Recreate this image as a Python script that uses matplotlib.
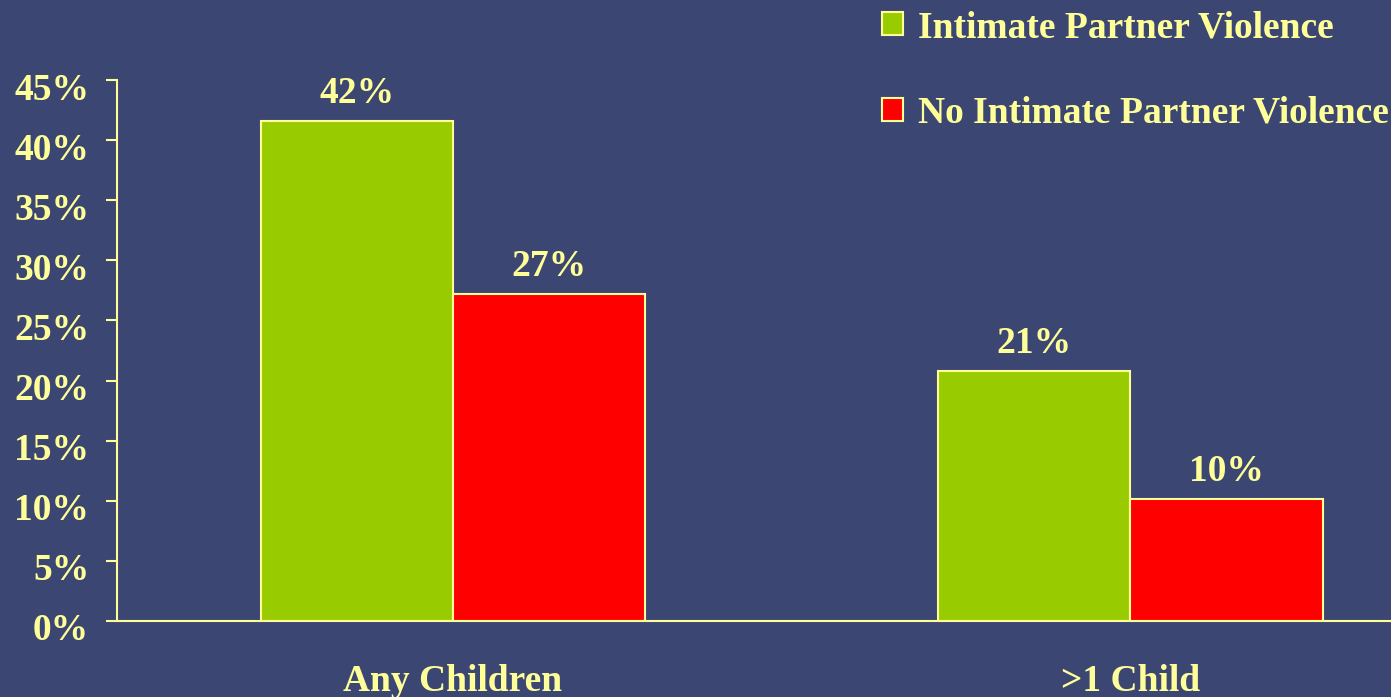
import matplotlib.pyplot as plt
import matplotlib.transforms as mtrans
from matplotlib.patches import Patch
import numpy as np

categories = ["Any Children", ">1 Child"]
ipv = [41.6, 20.8]
no_ipv = [27.2, 10.15]
series_names = ["Intimate Partner Violence", "No Intimate Partner Violence"]
yticks = [0, 5, 10, 15, 20, 25, 30, 35, 40, 45]

bg = "#3C4673"
txt = "#FFFF99"
green = "#99CC00"
red = "#FF0000"

plt.rcParams["font.family"] = ["Liberation Serif", "DejaVu Serif"]
plt.rcParams["font.weight"] = "bold"

fig = plt.figure(figsize=(13.91, 6.97), dpi=100, facecolor=bg)
ax = fig.add_axes([117 / 1391, 1 - 621 / 697, 1 - 117 / 1391, (621 - 80) / 697])
ax.set_facecolor(bg)

x = np.arange(len(categories))
w = 0.284
b1 = ax.bar(x - w / 2, ipv, w, color=green, edgecolor=txt, linewidth=1.5)
b2 = ax.bar(x + w / 2, no_ipv, w, color=red, edgecolor=txt, linewidth=1.5)

for bars, vals in [(b1, ipv), (b2, no_ipv)]:
    for r, v in zip(bars, vals):
        ax.annotate(f"{round(v)}%", (r.get_x() + r.get_width() / 2, v),
                    xytext=(0, 7), textcoords="offset points",
                    ha="center", va="bottom", color=txt, fontsize=27, fontweight="bold")

ax.set_xlim(-0.496, 1.385)
ax.set_ylim(0, 45)
ax.set_yticks(yticks)
ax.set_yticklabels([f"{t}%" for t in yticks])
ax.set_xticks(x)
ax.set_xticklabels(categories)

for s in ["top", "right"]:
    ax.spines[s].set_visible(False)
for s in ["left", "bottom"]:
    ax.spines[s].set_color(txt)
    ax.spines[s].set_linewidth(1.5)

ax.tick_params(axis="y", colors=txt, labelsize=27, length=8, width=1.5, pad=12)
ax.tick_params(axis="x", colors=txt, labelsize=27, length=0, pad=31)

# labels sit a bit below their ticks in the original
shift = mtrans.ScaledTranslation(0, -6 / 100, fig.dpi_scale_trans)
for lab in ax.get_yticklabels():
    lab.set_transform(lab.get_transform() + shift)

handles = [Patch(facecolor=green, edgecolor=txt, linewidth=1.5),
           Patch(facecolor=red, edgecolor=txt, linewidth=1.5)]
leg = fig.legend(handles, series_names, loc="upper left",
                 bbox_to_anchor=(882 / 1391, 1 - 10 / 697), frameon=False,
                 fontsize=27, labelspacing=1.35, handlelength=0.55, handleheight=0.55,
                 handletextpad=0.4, borderpad=0, borderaxespad=0)
for t in leg.get_texts():
    t.set_color(txt)
    t.set_fontweight("bold")

fig.savefig("out.png", dpi=100, facecolor=bg)
